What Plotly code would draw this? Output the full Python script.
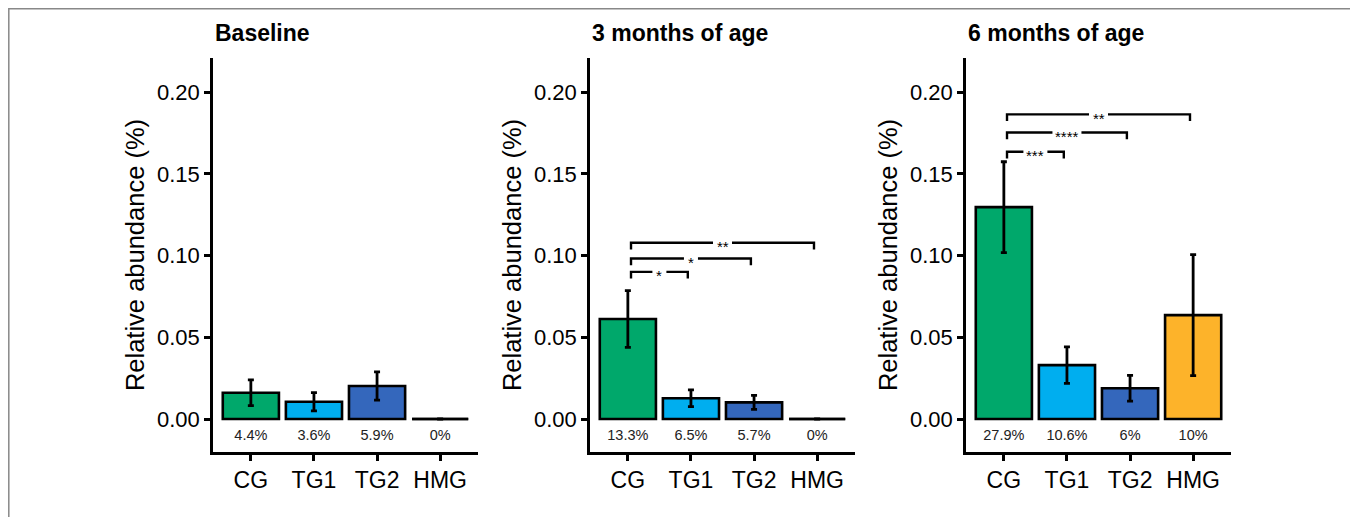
import plotly.graph_objects as go

categories = ["CG", "TG1", "TG2", "HMG"]
colors = ["#00A86B", "#00AEEF", "#3467BC", "#FDB32A"]
panel_titles = ["Baseline", "3 months of age", "6 months of age"]

baseline_mean = [0.0161, 0.0106, 0.0202, 0.0]
baseline_err = [0.0079, 0.0056, 0.0087, 0.0]
baseline_pct = ["4.4%", "3.6%", "5.9%", "0%"]

m3_mean = [0.0612, 0.0127, 0.0102, 0.0]
m3_err = [0.0174, 0.0051, 0.0043, 0.0]
m3_pct = ["13.3%", "6.5%", "5.7%", "0%"]

m6_mean = [0.1297, 0.0330, 0.0188, 0.0636]
m6_err = [0.0278, 0.0112, 0.0079, 0.0370]
m6_pct = ["27.9%", "10.6%", "6%", "10%"]

# significance brackets: (group a, group b, height, label)
brackets_base = []
brackets_3m = [("CG", "TG1", 0.0901, "*"), ("CG", "TG2", 0.0983, "*"), ("CG", "HMG", 0.1079, "**")]
brackets_6m = [("CG", "TG1", 0.1636, "***"), ("CG", "TG2", 0.1754, "****"), ("CG", "HMG", 0.1865, "**")]

yticks = [0.0, 0.05, 0.10, 0.15, 0.20]
ytick_text = ["0.00", "0.05", "0.10", "0.15", "0.20"]

W, H = 1358, 517
OFF = 8  # page offset of the figure in the browser
FONT = "Liberation Sans, Arial, Helvetica, sans-serif"
panels = [
    (baseline_mean, baseline_err, baseline_pct, brackets_base),
    (m3_mean, m3_err, m3_pct, brackets_3m),
    (m6_mean, m6_err, m6_pct, brackets_6m),
]
x_px = [(213, 478), (590, 855), (966, 1231)]
x_domains = [((a - OFF) / W, (b - OFF) / W) for a, b in x_px]
y_domain = (1 - (452 - OFF) / H, 1 - (58 - OFF) / H)
x_range = [-0.6, 3.6]
px_per_unit = (x_px[0][1] - x_px[0][0]) / (x_range[1] - x_range[0])
tip = 0.0041
bar_w = 0.89

fig = go.Figure()
annotations = []
shapes = []
idx = list(range(len(categories)))

for p, (mean, err, pct, brk) in enumerate(panels):
    xa = "x" if p == 0 else f"x{p+1}"
    ya = "y" if p == 0 else f"y{p+1}"
    fig.add_trace(go.Bar(
        x=idx, y=mean, width=bar_w, xaxis=xa, yaxis=ya,
        marker=dict(color=colors, line=dict(color="black", width=2.6)),
        error_y=dict(type="data", array=err, visible=True, color="black", thickness=2.8, width=3),
        showlegend=False, hoverinfo="skip",
    ))
    # zero-height bars drawn as a flat black line
    for i, v in enumerate(mean):
        if v == 0:
            fig.add_trace(go.Scatter(
                x=[i - bar_w / 2, i + bar_w / 2], y=[0, 0], mode="lines",
                line=dict(color="black", width=2.6), xaxis=xa, yaxis=ya,
                showlegend=False, hoverinfo="skip",
            ))
    # percent labels
    fig.add_trace(go.Scatter(
        x=idx, y=[-0.0108] * len(idx), mode="text", text=pct,
        textfont=dict(family=FONT, size=14.5, color="#222222"),
        xaxis=xa, yaxis=ya, showlegend=False, hoverinfo="skip",
    ))
    # brackets with a gap for the label
    for a, b, h, lab in brk:
        x0 = categories.index(a) + 0.05
        x1 = categories.index(b) - 0.05
        mid = (x0 + x1) / 2
        gap = (4.5 + 2.5 * len(lab)) / px_per_unit
        fig.add_trace(go.Scatter(
            x=[x0, x0, mid - gap, None, mid + gap, x1, x1],
            y=[h - tip, h, h, None, h, h, h - tip], mode="lines",
            line=dict(color="black", width=2.4), xaxis=xa, yaxis=ya,
            showlegend=False, hoverinfo="skip", connectgaps=False,
        ))
        annotations.append(dict(
            x=mid, y=h, xref=xa, yref=ya, text=lab, showarrow=False,
            font=dict(family=FONT, size=15, color="black"),
            yshift=-4,
        ))
    # panel title
    annotations.append(dict(
        x=x_domains[p][0], y=1 - (33 - OFF) / H, xref="paper", yref="paper",
        text=f"<b>{panel_titles[p]}</b>", showarrow=False, xanchor="left", yanchor="middle",
        font=dict(family=FONT, size=23, color="black"),
    ))

axis_common_x = dict(
    range=x_range, tickvals=idx, ticktext=categories, showline=True, linecolor="black",
    linewidth=2.5, ticks="outside", ticklen=6, tickwidth=2.5, tickcolor="black",
    showgrid=False, zeroline=False, tickfont=dict(family=FONT, size=23, color="black"),
    ticklabelstandoff=0, fixedrange=True,
)
axis_common_y = dict(
    range=[-0.0202, 0.221], tickvals=yticks, ticktext=ytick_text, showline=True, linecolor="black",
    linewidth=2.5, ticks="outside", ticklen=6, tickwidth=2.5, tickcolor="black",
    showgrid=False, zeroline=False, tickfont=dict(family=FONT, size=22, color="black"),
    ticklabelstandoff=0, domain=list(y_domain), fixedrange=True,
    title=dict(text="Relative abundance (%)", font=dict(family=FONT, size=25.5, color="black"), standoff=6),
)

layout = dict(
    width=W, height=H, margin=dict(l=0, r=0, t=0, b=0),
    paper_bgcolor="white", plot_bgcolor="white", annotations=annotations,
    font=dict(family=FONT),
)
for p in range(3):
    xk = "xaxis" if p == 0 else f"xaxis{p+1}"
    yk = "yaxis" if p == 0 else f"yaxis{p+1}"
    ya = "y" if p == 0 else f"y{p+1}"
    xa = "x" if p == 0 else f"x{p+1}"
    layout[xk] = dict(axis_common_x, domain=list(x_domains[p]), anchor=ya)
    layout[yk] = dict(axis_common_y, anchor=xa)

shapes.append(dict(type="rect", xref="paper", yref="paper",
                   x0=0.8 / W, x1=(1356 - OFF) / W, y0=-0.1, y1=1 - 0.8 / H,
                   line=dict(color="#888888", width=1.5), fillcolor="rgba(0,0,0,0)", layer="below"))
layout["shapes"] = shapes

fig.update_layout(**layout)
fig.write_html("out.html")
